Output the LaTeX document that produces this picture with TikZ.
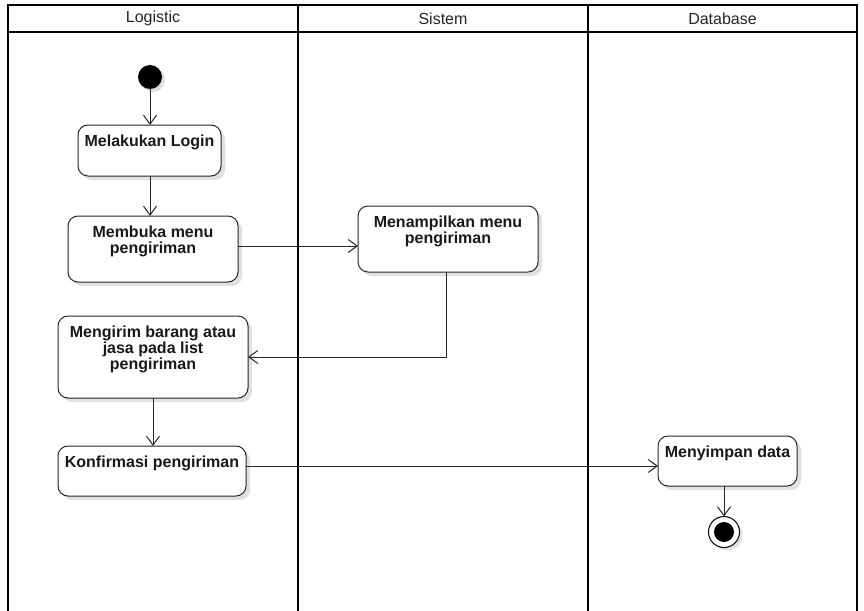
\documentclass[tikz,border=0pt]{standalone}
\usepackage{fontspec}
\setmainfont{Liberation Sans}
\usetikzlibrary{arrows.meta,shadows}
\begin{document}
\begin{tikzpicture}[x=1pt,y=-1pt,
  lane/.style={line width=2.2pt,draw=black},
  hdr/.style={font=\fontsize{16pt}{16pt}\selectfont,text=black!85,inner sep=0pt},
  act/.style={draw=black!85,line width=1pt,rounded corners=10pt,fill=white,inner sep=0pt,outer sep=0pt,
    drop shadow={shadow xshift=4pt,shadow yshift=-4pt,fill=black!12,opacity=1}},
  acttext/.style={font=\fontsize{16pt}{16pt}\selectfont\bfseries,text=black!90,align=center,inner sep=0pt,anchor=north},
  flow/.style={draw=black!85,line width=1pt,-{Straight Barb[length=9pt,width=13pt,line width=1pt]}}
]
\useasboundingbox (0,0) rectangle (864,610);
\fill[white] (0,0) rectangle (864,610);

% swimlanes
\draw[lane] (8,614) -- (8,5) -- (857,5) -- (857,614);
\draw[lane] (8,32) -- (857,32);
\draw[lane] (298,5) -- (298,614);
\draw[lane] (588,5) -- (588,614);
\node[hdr] (h1) at (153,18.5) {Logistic};
\node[hdr] (h2) at (443,18.5) {Sistem};
\node[hdr] (h3) at (722.5,18.5) {Database};

% start
\node[circle,fill=black,minimum size=24pt,inner sep=0pt,outer sep=0pt,
  drop shadow={shadow xshift=3pt,shadow yshift=-3pt,fill=black!12,opacity=1}] (start) at (150,77) {};

% activities
\node[act,minimum width=143pt,minimum height=51pt] (login) at (149.5,150.5) {};
\node[acttext] (login-t) at (149.5,135) {Melakukan Login};

\node[act,minimum width=170pt,minimum height=66pt] (membuka) at (153,249) {};
\node[acttext] (membuka-t) at (153,226) {Membuka menu\\pengiriman};

\node[act,minimum width=180pt,minimum height=66pt] (tampil) at (448,239) {};
\node[acttext] (tampil-t) at (448,216) {Menampilkan menu\\pengiriman};

\node[act,minimum width=190pt,minimum height=82pt] (kirim) at (153,357) {};
\node[acttext] (kirim-t) at (153,326) {Mengirim barang atau\\jasa pada list\\pengiriman};

\node[act,minimum width=188pt,minimum height=50pt] (konfirm) at (152,471) {};
\node[acttext] (konfirm-t) at (152,456) {Konfirmasi pengiriman};

\node[act,minimum width=139pt,minimum height=50pt] (simpan) at (727.5,461) {};
\node[acttext] (simpan-t) at (727.5,446) {Menyimpan data};

% end
\node[circle,draw=black,line width=1pt,fill=white,minimum size=31pt,inner sep=0pt,outer sep=0pt,
  drop shadow={shadow xshift=3pt,shadow yshift=-3pt,fill=black!12,opacity=1}] (endn) at (724,532) {};
\node[circle,fill=black,minimum size=20pt,inner sep=0pt] (endin) at (endn.center) {};

% connectors
\coordinate (r1) at (0,246);
\coordinate (r2) at (0,466);
\draw[flow] (start.south) -- (login.north -| start.south);
\draw[flow] (login.south -| start.south) -- (membuka.north -| start.south);
\draw[flow] (membuka.east |- r1) -- (tampil.west |- r1);
\draw[flow] ([xshift=-2pt]tampil.south) |- (kirim.east);
\draw[flow] (kirim.south) -- (konfirm.north -| kirim.south);
\draw[flow] (konfirm.east |- r2) -- (simpan.west |- r2);
\draw[flow] (simpan.south -| endn.north) -- (endn.north);
\end{tikzpicture}
\end{document}
